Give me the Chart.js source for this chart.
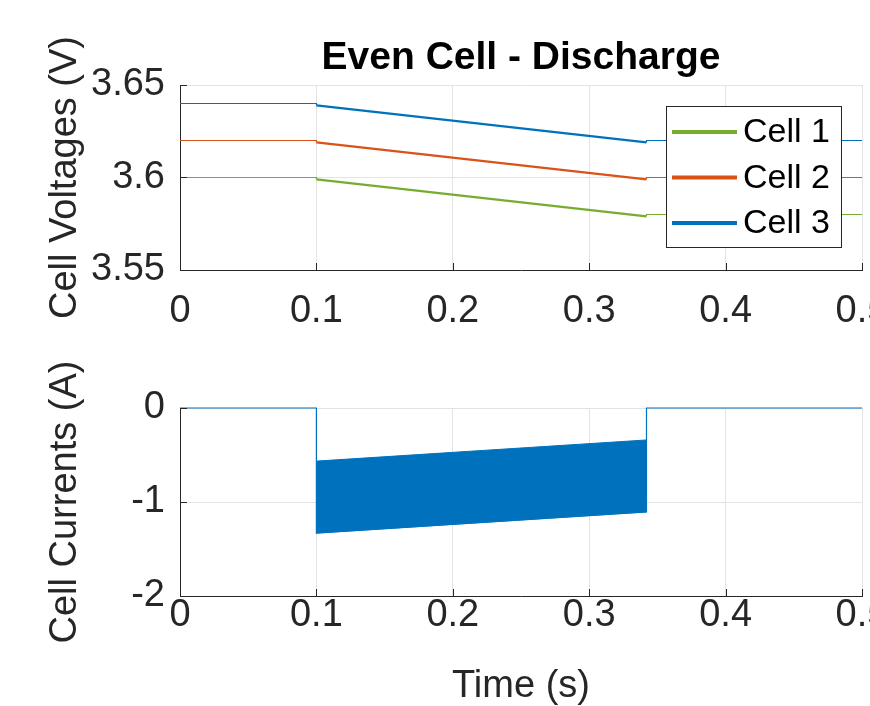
<!DOCTYPE html>
<html>
<head>
<meta charset="utf-8">
<script src="https://cdn.jsdelivr.net/npm/chart.js@4.4.1/dist/chart.umd.min.js"></script>
<style>
  html, body { margin: 0; padding: 0; overflow: hidden; background: #fff; }
  #wrap { position: relative; width: 870px; height: 706px; overflow: hidden; }
  #top, #bottom { position: absolute; left: 0; }
  #top { top: 0; }
  #bottom { top: 353px; }
</style>
</head>
<body>
<div id="wrap">
  <canvas id="top" width="900" height="353"></canvas>
  <canvas id="bottom" width="900" height="353"></canvas>
</div>
<script>
// values
const voltageTime = [0, 0.1, 0.1, 0.342, 0.342, 0.5];
const cell1Voltage = [3.600, 3.600, 3.599, 3.579, 3.580, 3.580];
const cell2Voltage = [3.620, 3.620, 3.619, 3.599, 3.600, 3.600];
const cell3Voltage = [3.640, 3.640, 3.639, 3.619, 3.620, 3.620];
const cellNames = ['Cell 1', 'Cell 2', 'Cell 3'];

const currentTime = [0, 0.1, 0.1, 0.342, 0.342, 0.5];
const currentOutline = [0, 0, -1.33, -1.105, 0, 0];
const bandTime = [0.1, 0.342];
const bandUpper = [-0.565, -0.34];
const bandLower = [-1.33, -1.105];

const timeTicks = [0, 0.1, 0.2, 0.3, 0.4, 0.5];
const voltageTicks = [3.55, 3.6, 3.65];
const currentTicks = [-2, -1, 0];

const BLUE = '#0072BD';
const ORANGE = '#D95319';
const GREEN = '#77AC30';
const AXIS = '#262626';
const GRID = '#e3e3e3';

Chart.defaults.font.family = '"Liberation Sans", Arial, Helvetica, sans-serif';
Chart.defaults.color = AXIS;

const pts = (xs, ys) => xs.map((x, i) => ({ x, y: ys[i] }));
const fmt = (v) => String(Number(v.toFixed(2)));
const discharging = (ctx) => ctx.p0.parsed.x >= bandTime[0] && ctx.p1.parsed.x <= bandTime[1] && ctx.p0.parsed.x < ctx.p1.parsed.x;

// MATLAB-like inward ticks on the left and bottom axes
const inwardTicks = {
  id: 'inwardTicks',
  afterDraw(chart) {
    const { ctx, chartArea, scales } = chart;
    ctx.save();
    ctx.strokeStyle = AXIS;
    ctx.lineWidth = 1;
    ctx.beginPath();
    scales.x.ticks.forEach((t) => {
      const px = Math.round(scales.x.getPixelForValue(t.value)) + 0.5;
      ctx.moveTo(px, chartArea.bottom);
      ctx.lineTo(px, chartArea.bottom - 7);
    });
    scales.y.ticks.forEach((t) => {
      const py = Math.round(scales.y.getPixelForValue(t.value)) + 0.5;
      ctx.moveTo(chartArea.left, py);
      ctx.lineTo(chartArea.left + 7, py);
    });
    ctx.stroke();
    ctx.restore();
  },
};

// boxed legend inside the top axes
const boxLegend = {
  id: 'boxLegend',
  afterDraw(chart) {
    const { ctx, chartArea } = chart;
    const w = 175, h = 141;
    const bx = chartArea.right - 21 - w;
    const by = chartArea.top + 21;
    ctx.save();
    ctx.fillStyle = '#fff';
    ctx.fillRect(bx, by, w, h);
    ctx.strokeStyle = AXIS;
    ctx.lineWidth = 1;
    ctx.strokeRect(bx + 0.5, by + 0.5, w, h);
    ctx.font = '34px "Liberation Sans", Arial, Helvetica, sans-serif';
    ctx.textBaseline = 'middle';
    ctx.fillStyle = '#000';
    chart.data.datasets.forEach((ds, i) => {
      const y = by + 26 + i * 45.5;
      ctx.strokeStyle = ds.borderColor;
      ctx.lineWidth = 4;
      ctx.beginPath();
      ctx.moveTo(bx + 6, y);
      ctx.lineTo(bx + 71, y);
      ctx.stroke();
      ctx.fillText(ds.label, bx + 77, y + 1);
    });
    ctx.restore();
  },
};

// gap below the axis comes from an invisible tick mark so the right padding stays put
const xScale = (height, gap, tickPad, title) => ({
  type: 'linear',
  min: 0,
  max: 0.5,
  afterBuildTicks: (s) => { s.ticks = timeTicks.map((v) => ({ value: v })); },
  afterFit: (s) => { s.height = height; },
  grid: { color: GRID, drawTicks: gap > 0, tickLength: gap, tickColor: 'rgba(0,0,0,0)' },
  border: { color: AXIS, width: 1 },
  ticks: { padding: tickPad, font: { size: 38 }, maxRotation: 0, autoSkip: false, callback: fmt },
  title: title,
});

const yScale = (min, max, ticks, label) => ({
  min,
  max,
  afterBuildTicks: (s) => { s.ticks = ticks.map((v) => ({ value: v })); },
  afterFit: (s) => { s.width = 180; },
  grid: { color: GRID, drawTicks: false },
  border: { color: AXIS, width: 1 },
  ticks: { padding: 15, font: { size: 38 }, callback: fmt },
  title: { display: true, text: label, color: AXIS, font: { size: 38 }, padding: { top: 43, bottom: 0 } },
});

const baseOptions = {
  responsive: false,
  animation: false,
  events: [],
  elements: { point: { radius: 0 }, line: { tension: 0 } },
};

new Chart(document.getElementById('top'), {
  type: 'line',
  data: {
    datasets: [
      { label: cellNames[0], data: pts(voltageTime, cell1Voltage), borderColor: GREEN },
      { label: cellNames[1], data: pts(voltageTime, cell2Voltage), borderColor: ORANGE },
      { label: cellNames[2], data: pts(voltageTime, cell3Voltage), borderColor: BLUE },
    ].map((ds) => ({
      ...ds,
      fill: false,
      borderWidth: 1.2,
      segment: { borderWidth: (ctx) => (discharging(ctx) ? 2.2 : 1.2) },
    })),
  },
  options: {
    ...baseOptions,
    layout: { padding: { left: 0, right: 38, top: 0, bottom: 0 } },
    plugins: {
      legend: { display: false },
      tooltip: { enabled: false },
      title: {
        display: true,
        fullSize: false,
        text: 'Even Cell - Discharge',
        color: '#000',
        font: { size: 39, weight: 'bold' },
        padding: { top: 35, bottom: 3.2 },
      },
    },
    scales: {
      x: xScale(83, 19, 0, { display: false }),
      y: yScale(3.55, 3.65, voltageTicks, 'Cell Voltages (V)'),
    },
  },
  plugins: [inwardTicks, boxLegend],
});

new Chart(document.getElementById('bottom'), {
  type: 'line',
  data: {
    datasets: [
      { label: 'lower', data: pts(bandTime, bandLower), borderColor: BLUE, borderWidth: 1, fill: false },
      { label: 'upper', data: pts(bandTime, bandUpper), borderColor: BLUE, borderWidth: 1, fill: '-1', backgroundColor: BLUE },
      { label: 'current', data: pts(currentTime, currentOutline), borderColor: BLUE, borderWidth: 1.2, fill: false, clip: 4 },
    ],
  },
  options: {
    ...baseOptions,
    layout: { padding: { left: 0, right: 38, top: 55, bottom: 0 } },
    plugins: {
      legend: { display: false },
      tooltip: { enabled: false },
    },
    scales: {
      x: xScale(110, 0, -3, { display: true, text: 'Time (s)', color: AXIS, font: { size: 38 }, padding: { top: 0, bottom: -3 } }),
      y: yScale(-2, 0, currentTicks, 'Cell Currents (A)'),
    },
  },
  plugins: [inwardTicks],
});
</script>
</body>
</html>
